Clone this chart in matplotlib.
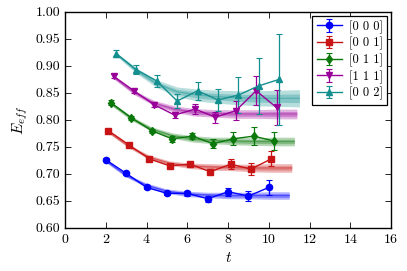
import matplotlib
matplotlib.use("Agg")
import matplotlib.pyplot as plt
from matplotlib.ticker import FormatStrFormatter, MultipleLocator

plt.rcParams['font.family'] = 'serif'
plt.rcParams['font.serif'] = ['cmr10', 'DejaVu Serif']
plt.rcParams['mathtext.fontset'] = 'cm'
plt.rcParams['axes.formatter.use_mathtext'] = True

labels = ['[0 0 0]', '[0 0 1]', '[0 1 1]', '[1 1 1]', '[0 0 2]']
colors = ['#0000ff', '#c81414', '#0a780a', '#990099', '#138f8f']
markers = ['o', 's', 'd', 'v', '^']
t_start = [2.0, 2.125, 2.25, 2.375, 2.5]

# measured effective energies (t = t_start + k)
y_vals = [
    [0.726, 0.701, 0.675, 0.664, 0.664, 0.654, 0.667, 0.659, 0.675],
    [0.780, 0.754, 0.728, 0.715, 0.718, 0.704, 0.718, 0.709, 0.728],
    [0.832, 0.804, 0.780, 0.765, 0.770, 0.756, 0.765, 0.770, 0.761],
    [0.881, 0.854, 0.828, 0.809, 0.820, 0.805, 0.817, 0.854, 0.823],
    [0.923, 0.893, 0.872, 0.835, 0.854, 0.837, 0.846, 0.863, 0.875],
]
y_errs = [
    [0.003, 0.003, 0.003, 0.003, 0.004, 0.006, 0.007, 0.010, 0.014],
    [0.003, 0.003, 0.003, 0.003, 0.004, 0.004, 0.009, 0.011, 0.014],
    [0.004, 0.004, 0.004, 0.005, 0.006, 0.008, 0.012, 0.016, 0.017],
    [0.004, 0.004, 0.005, 0.006, 0.009, 0.010, 0.018, 0.027, 0.033],
    [0.006, 0.008, 0.011, 0.013, 0.017, 0.021, 0.033, 0.052, 0.085],
]

# fit bands (t = t_start + k, k = 0..9)
band_center = [
    [0.724, 0.697, 0.679, 0.668, 0.663, 0.661, 0.660, 0.660, 0.660, 0.660],
    [0.778, 0.751, 0.731, 0.720, 0.715, 0.713, 0.712, 0.711, 0.711, 0.711],
    [0.830, 0.803, 0.783, 0.771, 0.765, 0.762, 0.761, 0.760, 0.760, 0.760],
    [0.879, 0.851, 0.831, 0.820, 0.814, 0.812, 0.811, 0.811, 0.811, 0.811],
    [0.922, 0.891, 0.867, 0.852, 0.846, 0.843, 0.841, 0.840, 0.840, 0.840],
]
band_half = [
    [0.003, 0.003, 0.004, 0.004, 0.005, 0.005, 0.006, 0.006, 0.007, 0.007],
    [0.003, 0.003, 0.004, 0.004, 0.005, 0.006, 0.006, 0.007, 0.008, 0.008],
    [0.003, 0.004, 0.004, 0.005, 0.006, 0.006, 0.007, 0.007, 0.008, 0.008],
    [0.003, 0.004, 0.005, 0.006, 0.007, 0.007, 0.008, 0.008, 0.009, 0.009],
    [0.003, 0.005, 0.007, 0.009, 0.011, 0.012, 0.013, 0.014, 0.015, 0.016],
]

fig = plt.figure(figsize=(4.07, 2.71), dpi=100)
ax = fig.add_axes([0.160, 0.159, 0.801, 0.797])

for i in range(5):
    tb = [t_start[i] + k for k in range(len(band_center[i]))]
    c = band_center[i]
    h = band_half[i]
    lo = [a - b for a, b in zip(c, h)]
    hi = [a + b for a, b in zip(c, h)]
    lo2 = [a - 0.5 * b for a, b in zip(c, h)]
    hi2 = [a + 0.5 * b for a, b in zip(c, h)]
    ax.fill_between(tb, lo, hi, color=colors[i], alpha=0.3, lw=0)
    ax.fill_between(tb, lo2, hi2, color=colors[i], alpha=0.3, lw=0)
    ax.plot(tb, c, color=colors[i], alpha=0.4, lw=0.8)

for i in range(5):
    tp = [t_start[i] + k for k in range(len(y_vals[i]))]
    ax.errorbar(tp, y_vals[i], yerr=y_errs[i], color=colors[i], marker=markers[i],
                markersize=4.5, lw=1.0, capsize=2.5, capthick=0.8, elinewidth=0.9,
                label=labels[i])

ax.set_xlim(0, 16)
ax.set_ylim(0.60, 1.00)
ax.xaxis.set_major_locator(MultipleLocator(2))
ax.yaxis.set_major_locator(MultipleLocator(0.05))
ax.yaxis.set_major_formatter(FormatStrFormatter('%.2f'))
ax.tick_params(direction='in', top=True, right=True, labelsize=10, length=4, width=0.6)
for s in ax.spines.values():
    s.set_linewidth(1.0)
ax.set_xlabel('$t$', fontsize=11)
ax.set_ylabel('$E_{eff}$', fontsize=11)

leg = ax.legend(loc='upper right', fontsize=9, fancybox=False, framealpha=1,
                edgecolor='black', handlelength=2.0, borderaxespad=0.3,
                labelspacing=0.25, borderpad=0.35, handletextpad=0.6)
leg.get_frame().set_linewidth(0.9)

fig.savefig('out.png', dpi=100)
